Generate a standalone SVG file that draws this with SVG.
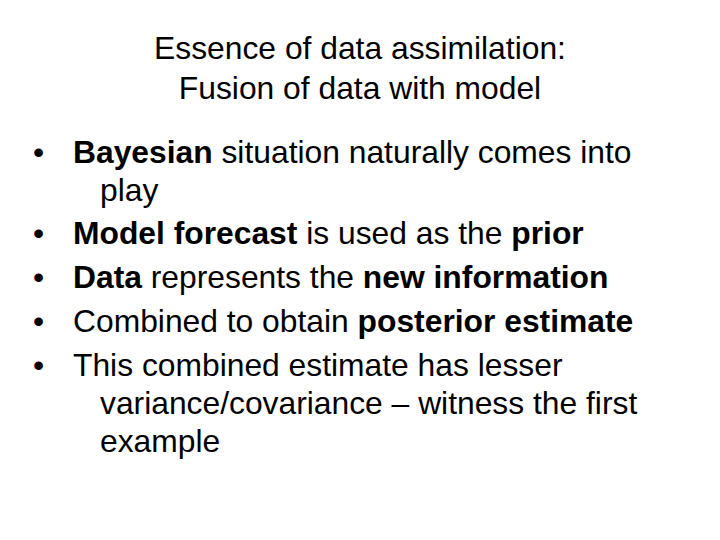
<svg xmlns="http://www.w3.org/2000/svg" width="720" height="540" viewBox="0 0 720 540">
<style>
text{font-family:"Liberation Sans",Arial,sans-serif;font-size:31.8px;fill:#000}
.t{text-anchor:middle}
.b{font-weight:bold}
</style>
<rect width="720" height="540" fill="#fff"/>
<g id="title">
<text class="t" x="360" y="59">Essence of data assimilation:</text>
<text class="t" x="360" y="99">Fusion of data with model</text>
</g>
<g id="bullets">
<text x="33" y="163">•</text>
<text x="33" y="244">•</text>
<text x="33" y="288">•</text>
<text x="33" y="332">•</text>
<text x="33" y="376">•</text>
<text x="73" y="163"><tspan class="b">Bayesian</tspan> situation naturally comes into</text>
<text x="100" y="201">play</text>
<text x="73" y="244"><tspan class="b">Model forecast</tspan> is used as the <tspan class="b">prior</tspan></text>
<text x="73" y="288"><tspan class="b">Data</tspan> represents the <tspan class="b">new information</tspan></text>
<text x="73" y="332">Combined to obtain <tspan class="b">posterior estimate</tspan></text>
<text x="73" y="376">This combined estimate has lesser</text>
<text x="100" y="414">variance/covariance – witness the first</text>
<text x="100" y="452">example</text>
</g>
</svg>
